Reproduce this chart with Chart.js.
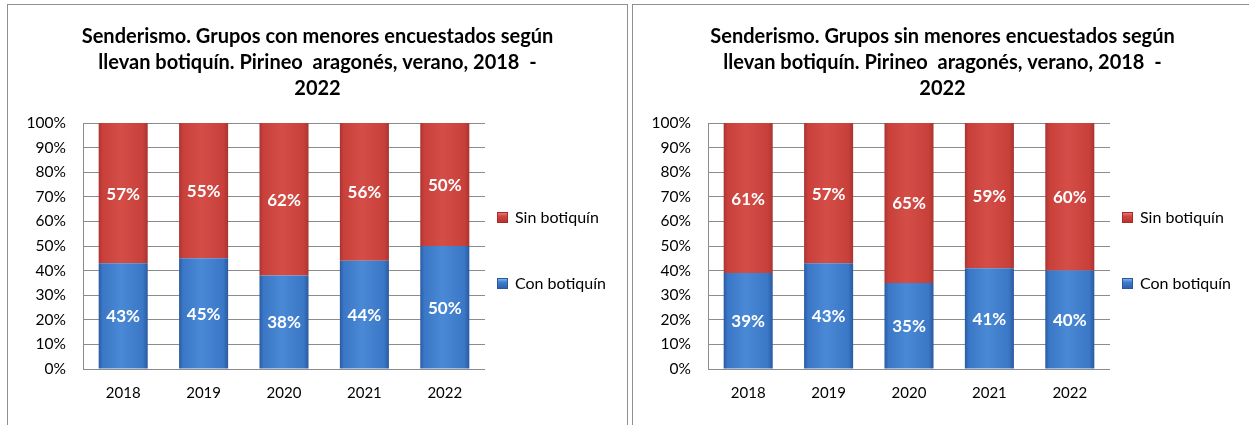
<!DOCTYPE html>
<html>
<head>
<meta charset="utf-8">
<script src="https://cdn.jsdelivr.net/npm/chart.js@4/dist/chart.umd.min.js"></script>
<style>
  html, body { margin: 0; padding: 0; background: #ffffff; }
  body { width: 1249px; height: 425px; position: relative; overflow: hidden; font-family: Lato, "Liberation Sans", sans-serif; }
  .box { position: absolute; top: 4px; width: 619px; height: 440px; border: 1px solid #8f8f8f; background: #fff; }
  .box canvas { position: absolute; left: 0; top: 0; }
  .leg { position: absolute; left: 489px; height: 18px; line-height: 18px; display: flex; align-items: center; font-size: 16px; color: #000; white-space: nowrap; }
  .sq { width: 11px; height: 11px; margin-right: 7px; box-sizing: border-box; }
  .sq.red { background: linear-gradient(180deg, #e97772 0%, #cf4540 35%, #b8332f 100%); border: 1px solid #a42c28; }
  .sq.blue { background: linear-gradient(180deg, #7fb2ec 0%, #3f7fcf 35%, #2d62ad 100%); border: 1px solid #28579a; }
</style>
</head>
<body>
<div class="box" style="left:7px;">
  <canvas id="c1" width="619" height="420"></canvas>
  <div class="leg" style="top:203px;"><div class="sq red"></div>Sin botiquín</div>
  <div class="leg" style="top:269px;"><div class="sq blue"></div>Con botiquín</div>
</div>
<div class="box" style="left:632px;">
  <canvas id="c2" width="619" height="420"></canvas>
  <div class="leg" style="top:203px;"><div class="sq red"></div>Sin botiquín</div>
  <div class="leg" style="top:269px;"><div class="sq blue"></div>Con botiquín</div>
</div>
<script>
// ---- Data ----
const years = ['2018', '2019', '2020', '2021', '2022'];
const seriesNames = ['Con botiquín', 'Sin botiquín'];
const conMenoresConBotiquin = [43, 45, 38, 44, 50];
const conMenoresSinBotiquin = [57, 55, 62, 56, 50];
const sinMenoresConBotiquin = [39, 43, 35, 41, 40];
const sinMenoresSinBotiquin = [61, 57, 65, 59, 60];
const titleConMenores = ['Senderismo. Grupos con menores encuestados según', 'llevan botiquín. Pirineo  aragonés, verano, 2018  -', '2022'];
const titleSinMenores = ['Senderismo. Grupos sin menores encuestados según', 'llevan botiquín. Pirineo  aragonés, verano, 2018  -', '2022'];

const FONT = 'Lato, "Liberation Sans", sans-serif';
const BAR_PCT = 0.61;

function barFill(edge, mid, light) {
  return (ctx) => {
    const chart = ctx.chart;
    const area = chart.chartArea;
    if (!area || ctx.type !== 'data' || !chart.scales.x) return mid;
    const x = chart.scales.x.getPixelForValue(ctx.dataIndex);
    const w = (area.right - area.left) / years.length * BAR_PCT;
    const g = chart.ctx.createLinearGradient(x - w / 2, 0, x + w / 2, 0);
    g.addColorStop(0, edge);
    g.addColorStop(0.08, mid);
    g.addColorStop(0.45, light);
    g.addColorStop(0.9, mid);
    g.addColorStop(1, edge);
    return g;
  };
}

const valueLabels = {
  id: 'valueLabels',
  afterDatasetsDraw(chart) {
    const ctx = chart.ctx;
    ctx.save();
    ctx.font = 'bold 17px ' + FONT;
    ctx.fillStyle = '#ffffff';
    ctx.textAlign = 'center';
    ctx.textBaseline = 'middle';
    chart.data.datasets.forEach((ds, di) => {
      const meta = chart.getDatasetMeta(di);
      meta.data.forEach((el, i) => {
        const p = el.getProps(['x', 'y', 'base'], true);
        ctx.fillText(ds.data[i] + '%', p.x, (p.y + p.base) / 2 + 1);
      });
    });
    ctx.restore();
  }
};

function makeChart(id, title, con, sin) {
  return new Chart(document.getElementById(id), {
    type: 'bar',
    data: {
      labels: years,
      datasets: [
        { label: seriesNames[0], data: con,
          backgroundColor: barFill('#2a5aa0', '#3a77c6', '#4a89d6'),
          barPercentage: BAR_PCT, categoryPercentage: 1 },
        { label: seriesNames[1], data: sin,
          backgroundColor: barFill('#a93430', '#c9403b', '#d44d47'),
          barPercentage: BAR_PCT, categoryPercentage: 1 }
      ]
    },
    options: {
      responsive: false,
      animation: false,
      devicePixelRatio: 1,
      layout: { padding: 0 },
      plugins: {
        legend: { display: false },
        tooltip: { enabled: false },
        title: {
          display: true,
          text: title,
          color: '#000000',
          font: { family: FONT, size: 20, weight: 'bold', lineHeight: 26 / 20 },
          padding: { top: 19, bottom: 21 }
        }
      },
      scales: {
        x: {
          stacked: true,
          grid: { display: false, drawTicks: false },
          border: { display: false },
          ticks: { color: '#000000', font: { family: FONT, size: 15 }, padding: 15, maxRotation: 0 },
          afterFit(scale) { scale.height = 56; }
        },
        y: {
          stacked: true,
          min: 0, max: 100,
          grid: { color: '#8c8c8c', lineWidth: 1, drawTicks: false },
          border: { display: true, color: '#8c8c8c', width: 1 },
          ticks: { stepSize: 10, color: '#000000', font: { family: FONT, size: 15.5 }, padding: 17,
                   callback: (v) => v + '%' },
          afterFit(scale) { scale.width = 75; }
        },
        legendSpace: {
          type: 'linear',
          position: 'right',
          display: true,
          grid: { display: false, drawTicks: false },
          border: { display: false },
          ticks: { display: false },
          afterFit(scale) { scale.width = 142; }
        }
      }
    },
    plugins: [valueLabels]
  });
}

makeChart('c1', titleConMenores, conMenoresConBotiquin, conMenoresSinBotiquin);
makeChart('c2', titleSinMenores, sinMenoresConBotiquin, sinMenoresSinBotiquin);
</script>
</body>
</html>
